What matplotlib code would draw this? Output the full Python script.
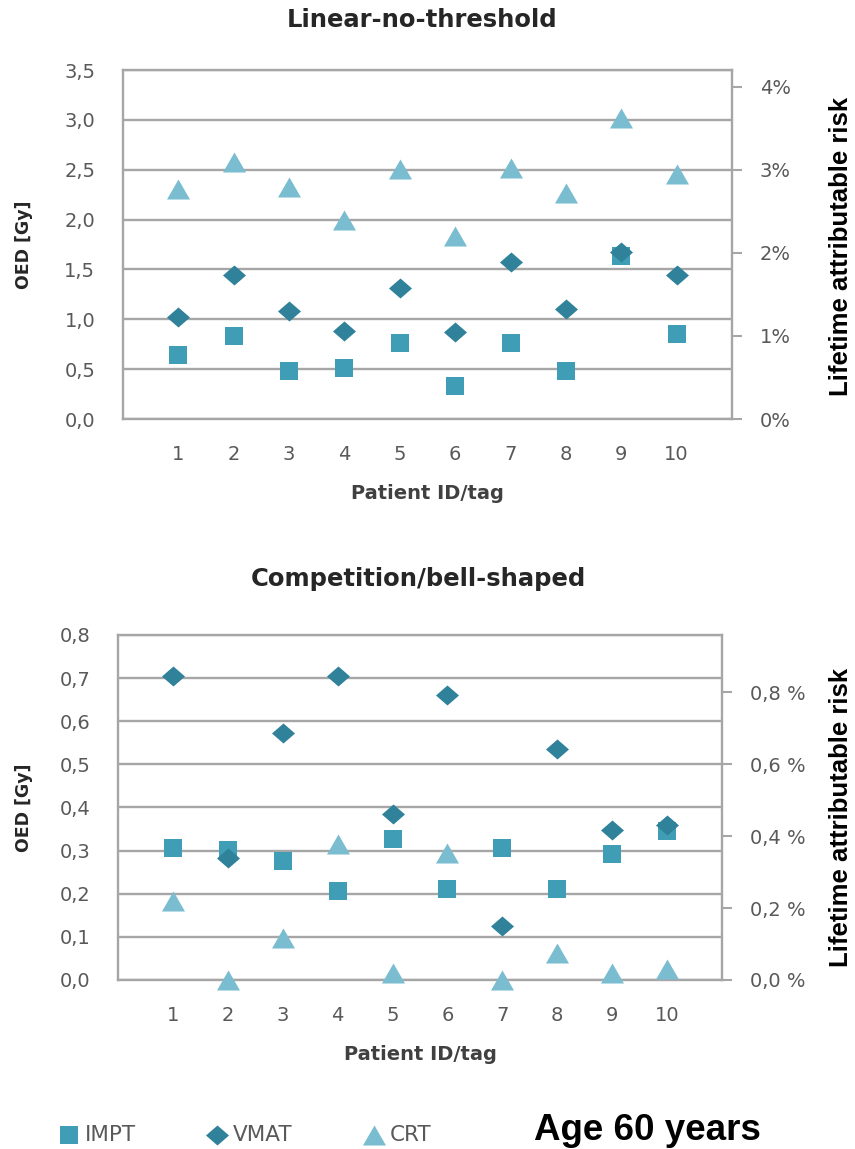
import matplotlib
matplotlib.use("Agg")
import matplotlib.pyplot as plt
import numpy as np
from matplotlib.path import Path
from matplotlib.ticker import FuncFormatter

# Patient ids
patients = [1, 2, 3, 4, 5, 6, 7, 8, 9, 10]

# Linear-no-threshold OED [Gy]
lnt_impt = [0.64, 0.83, 0.48, 0.51, 0.76, 0.33, 0.76, 0.48, 1.64, 0.85]
lnt_vmat = [1.02, 1.44, 1.08, 0.88, 1.31, 0.87, 1.58, 1.10, 1.68, 1.44]
lnt_crt = [2.31, 2.58, 2.33, 2.00, 2.51, 1.84, 2.52, 2.27, 3.02, 2.46]

# Competition/bell-shaped OED [Gy]
bell_impt = [0.305, 0.301, 0.275, 0.207, 0.328, 0.212, 0.305, 0.212, 0.292, 0.346]
bell_vmat = [0.705, 0.282, 0.572, 0.705, 0.384, 0.661, 0.125, 0.536, 0.348, 0.359]
bell_crt = [0.182, 0.0, 0.097, 0.316, 0.017, 0.294, 0.0, 0.062, 0.016, 0.025]

# risk per Gy used for the secondary axis
risk_per_gy = 0.012

series_names = ["IMPT", "VMAT", "CRT"]
colors = ["#3f9eb5", "#2f8299", "#7abdd0"]

# markers like the Excel ones (diamond and triangle a bit wider than tall)
diamond = Path([(0, 1), (1.15, 0), (0, -1), (-1.15, 0), (0, 1)],
               [Path.MOVETO, Path.LINETO, Path.LINETO, Path.LINETO, Path.CLOSEPOLY])
triangle = Path([(-1.15, -1), (1.15, -1), (0, 1), (-1.15, -1)],
                [Path.MOVETO, Path.LINETO, Path.LINETO, Path.CLOSEPOLY])
markers = ["s", diamond, triangle]
sizes = [177, 275, 275]

grid_col = "#a6a6a6"
tick_col = "#595959"

fig = plt.figure(figsize=(8.55, 11.49), dpi=100)
fig.patch.set_facecolor("white")


def fmt_top(v, pos):
    return "%d%%" % round(v * 100)


def fmt_bot(v, pos):
    return ("%.1f %%" % (v * 100)).replace(".", ",")


def fmt_left(v, pos):
    return ("%.1f" % v).replace(".", ",")


def make_panel(rect, data, ymax, ystep, rstep, rfmt, ylab_x):
    ax = fig.add_axes(rect)
    handles = []
    for vals, name, col, mk, sz in zip(data, series_names, colors, markers, sizes):
        h = ax.scatter(patients, vals, s=sz, marker=mk, color=col,
                       linewidths=0, label=name, zorder=3, clip_on=False)
        handles.append(h)
    ax.set_xlim(0, 11)
    ax.set_ylim(0, ymax)
    ax.set_yticks(np.arange(0, ymax + ystep / 2, ystep))
    ax.yaxis.set_major_formatter(FuncFormatter(fmt_left))
    ax.set_xticks(patients)
    ax.yaxis.grid(True, color=grid_col, lw=1.7)
    ax.set_axisbelow(True)
    for s in ax.spines.values():
        s.set_color(grid_col)
        s.set_linewidth(1.7)
    ax.tick_params(axis="both", length=0, labelsize=14, colors=tick_col)
    ax.tick_params(axis="y", pad=20)
    ax.tick_params(axis="x", pad=19)
    ax.set_xlabel("Patient ID/tag", fontsize=14, fontweight="bold",
                  color="#404040", labelpad=14)
    ax.set_ylabel("OED [Gy]", fontsize=12.5, fontweight="bold", color="#262626")
    ax.yaxis.set_label_coords(ylab_x, 0.5)

    ax2 = ax.twinx()
    ax2.set_ylim(0, ymax * risk_per_gy)
    ax2.set_yticks(np.arange(0, ymax * risk_per_gy, rstep))
    ax2.yaxis.set_major_formatter(FuncFormatter(rfmt))
    ax2.tick_params(axis="y", length=7, width=1.5, color=grid_col,
                    labelsize=14, labelcolor=tick_col, pad=13)
    for s in ax2.spines.values():
        s.set_visible(False)
    return ax, handles


ax_top, handles = make_panel([0.1439, 0.6353, 0.7123, 0.3037],
                             [lnt_impt, lnt_vmat, lnt_crt], 3.5, 0.5, 0.01,
                             fmt_top, -0.148)
ax_bot, _ = make_panel([0.1380, 0.1471, 0.7064, 0.3003],
                       [bell_impt, bell_vmat, bell_crt], 0.8, 0.1, 0.002,
                       fmt_bot, -0.141)

# titles
fig.text(422 / 855, 1 - 20 / 1149, "Linear-no-threshold", ha="center", va="center",
         fontsize=17.5, fontweight="bold", color="#262626")
fig.text(418 / 855, 1 - 579 / 1149, "Competition/bell-shaped", ha="center", va="center",
         fontsize=17.5, fontweight="bold", color="#262626")

# right axis labels
for yc in [246, 817]:
    fig.text(841 / 855, 1 - yc / 1149, "Lifetime attributable risk", rotation=90,
             ha="center", va="center", fontsize=18.5, fontweight="bold",
             family="Liberation Sans", color="black")

# legend
fig.legend(handles=handles, loc="center left", bbox_to_anchor=(59 / 855, 1 - 1135 / 1149),
           ncol=3, frameon=False, fontsize=15.5, handlelength=0.95, handletextpad=0.25,
           columnspacing=3.3, borderpad=0, borderaxespad=0, scatterpoints=1,
           labelcolor=tick_col)

fig.text(534 / 855, 1 - 1131 / 1149, "Age 60 years", ha="left", va="center",
         fontsize=26.5, fontweight="bold", family="Liberation Sans", color="black")

fig.savefig("out.png", dpi=100, facecolor="white")
